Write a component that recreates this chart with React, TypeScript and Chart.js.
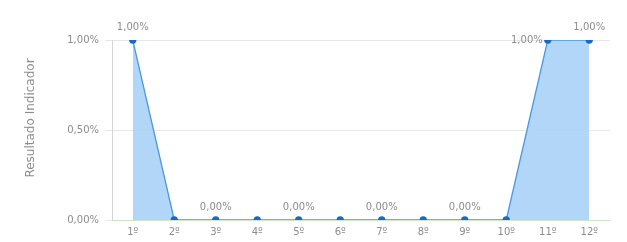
import React, { useEffect, useRef } from "react";
import { Chart, registerables } from "chart.js";

Chart.register(...registerables);

const categories = ["1º", "2º", "3º", "4º", "5º", "6º", "7º", "8º", "9º", "10º", "11º", "12º"];
const values = [1, 0, 0, 0, 0, 0, 0, 0, 0, 0, 1, 1];
const yTicks = [0, 0.5, 1];
const yTitle = "Resultado Indicador";
// which points show a value label, and where
const labelPlacement = ["top", "", "top", "", "top", "", "top", "", "top", "", "left", "top"];

const FONT = "'DejaVu Sans', sans-serif";
const TEXT = "#8c8c8c";
const fmt = (v: number) => v.toFixed(2).replace(".", ",") + "%";

const labelPlugin = {
  id: "valueLabels",
  afterDatasetsDraw(chart: any) {
    const ctx = chart.ctx;
    const meta = chart.getDatasetMeta(0);
    ctx.save();
    ctx.font = "10px " + FONT;
    ctx.fillStyle = TEXT;
    meta.data.forEach((pt: any, i: number) => {
      const place = labelPlacement[i];
      if (!place) return;
      const txt = fmt(values[i]);
      if (place === "top") {
        ctx.textAlign = "center";
        ctx.textBaseline = "middle";
        ctx.fillText(txt, pt.x, pt.y - 13);
      } else {
        ctx.textAlign = "right";
        ctx.textBaseline = "middle";
        ctx.fillText(txt, pt.x - 5, pt.y);
      }
    });
    // y axis title
    ctx.save();
    ctx.translate(31, 118);
    ctx.rotate(-Math.PI / 2);
    ctx.font = "12px " + FONT;
    ctx.textAlign = "center";
    ctx.textBaseline = "middle";
    ctx.fillText(yTitle, 0, 0);
    ctx.restore();
    ctx.restore();
  },
};

export default function App() {
  const ref = useRef<HTMLCanvasElement>(null);
  useEffect(() => {
    if (!ref.current) return;
    const chart = new Chart(ref.current, {
      type: "line",
      data: {
        labels: categories,
        datasets: [
          {
            data: values,
            borderColor: "#4a98de",
            borderWidth: 1.3,
            backgroundColor: "rgba(168,210,246,0.9)",
            fill: "origin",
            tension: 0,
            pointRadius: 3,
            pointBackgroundColor: "#176ac6",
            pointBorderColor: "#176ac6",
          },
        ],
      },
      options: {
        responsive: false,
        animation: false,
        layout: { padding: { top: 40, right: 17, bottom: 0, left: 21 } },
        plugins: {
          legend: { display: false },
          tooltip: { enabled: false },
          title: { display: false },
        },
        scales: {
          x: {
            offset: true,
            afterFit: (axis: any) => {
              axis.height = 22;
            },
            grid: { display: false, drawTicks: false },
            border: { display: true, color: "#cfe6c8" },
            ticks: {
              color: TEXT,
              font: { size: 10, family: FONT },
              padding: 6,
              maxRotation: 0,
            },
          },
          y: {
            min: 0,
            max: 1,
            afterBuildTicks: (axis: any) => {
              axis.ticks = yTicks.map((v) => ({ value: v }));
            },
            afterFit: (axis: any) => {
              axis.width = 91;
            },
            grid: { color: "#e8e8e8", tickLength: 7, drawTicks: true },
            border: { display: true, color: "#d4d4d4" },
            ticks: {
              color: TEXT,
              font: { size: 10, family: FONT },
              padding: 6,
              callback: (v: any) => fmt(Number(v)),
            },
          },
        },
      },
      plugins: [labelPlugin],
    });
    return () => chart.destroy();
  }, []);
  return (
    <div style={{ position: "fixed", left: 0, top: 0, width: 627, height: 242, background: "#fff" }}>
      <canvas ref={ref} width={627} height={242} />
    </div>
  );
}
